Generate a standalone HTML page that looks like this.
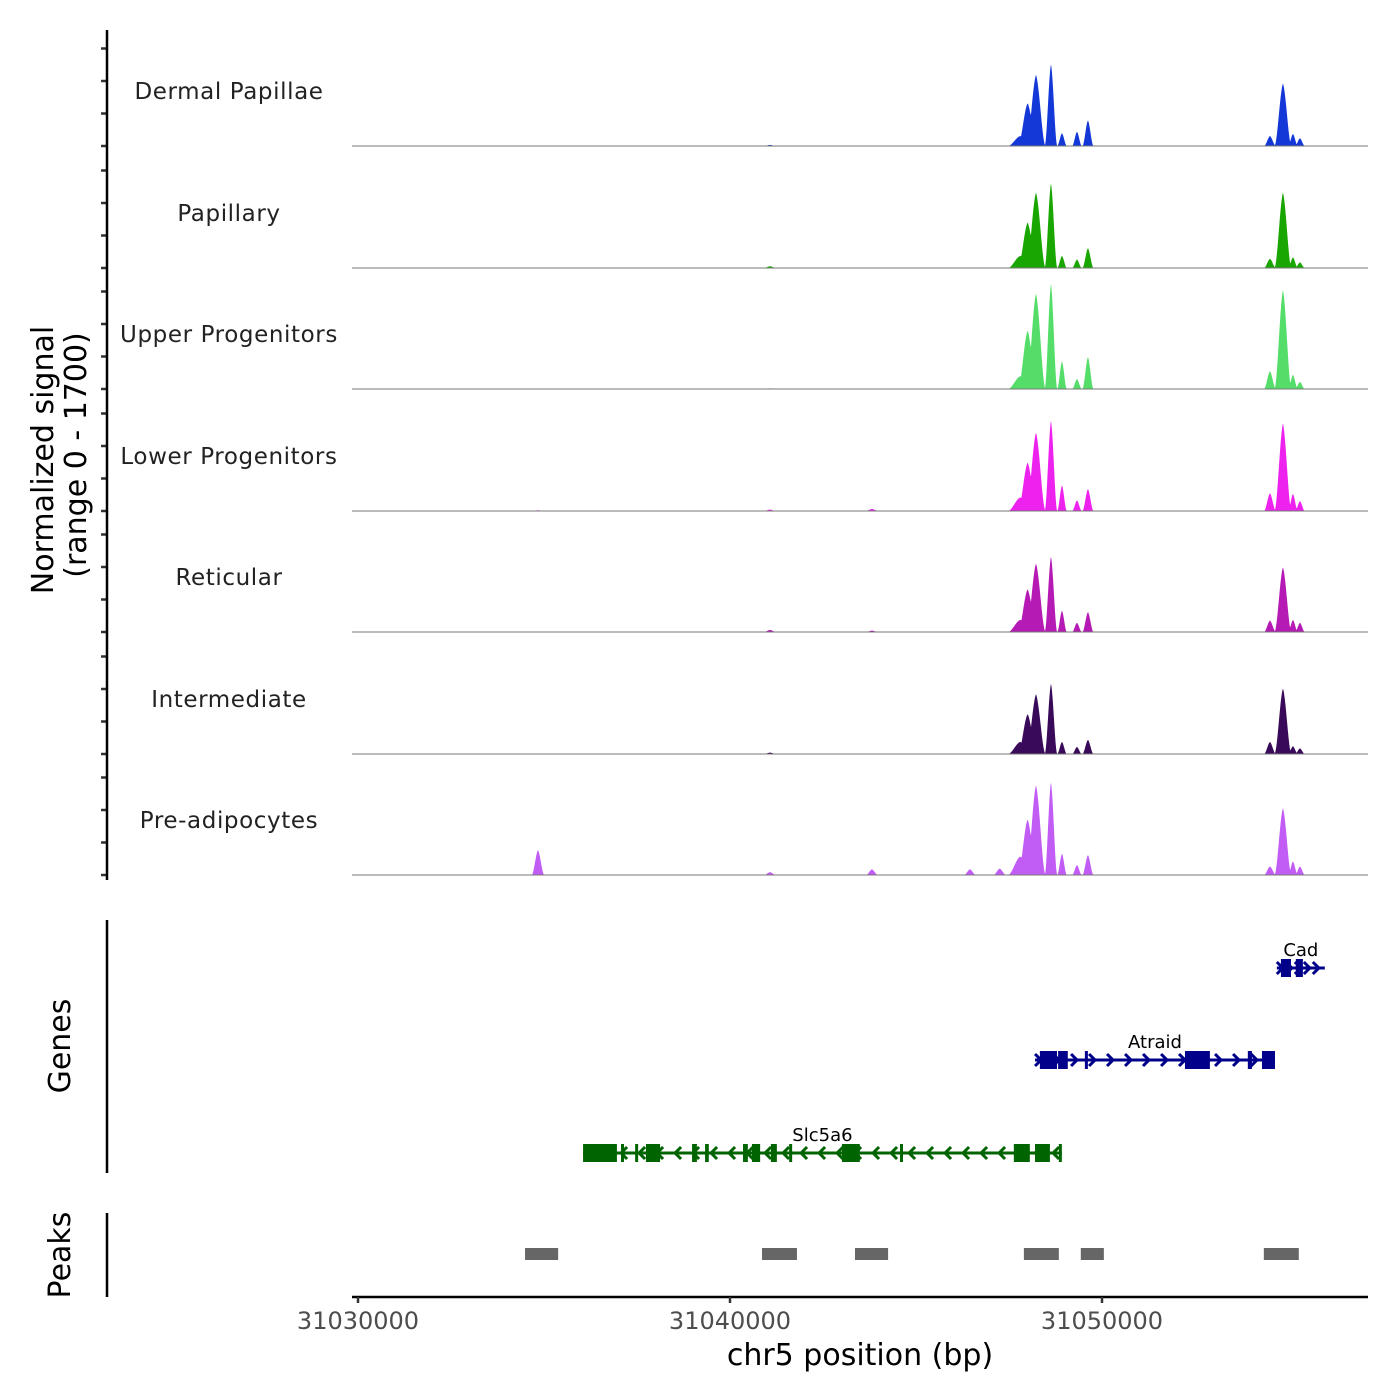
<!DOCTYPE html>
<html><head><meta charset="utf-8"><style>
html,body{margin:0;padding:0;background:#fff;}
svg{display:block;font-family:"DejaVu Sans","Liberation Sans",sans-serif;}
</style></head><body>
<svg id="chart" width="1400" height="1400" viewBox="0 0 1400 1400"></svg>
<script>
// ---- data ----
const trackNames = ["Dermal Papillae","Papillary","Upper Progenitors","Lower Progenitors","Reticular","Intermediate","Pre-adipocytes"];
const trackColors = ["#1438d8","#1aa600","#55dd6a","#ee22ee","#b51ab5","#3a0a5a","#c15cf5"];
// peak centers (bp offset from 31030000)
const peakCenters = [4838, 11075, 13816, 16451, 17250, 17800, 18000, 18225, 18628, 18924, 19327, 19622, 24515, 24864, 25133, 25321];
const peakWidths  = [170, 160, 160, 160, 170, 330, 260, 260, 170, 130, 130, 150, 160, 230, 130, 130];
// signal values (range 0-1700)
const sigDP   = [0, 15, 0, 0, 0, 140, 600, 1000, 1150, 180, 200, 360, 140, 880, 170, 110];
const sigPap  = [0, 25, 0, 0, 0, 170, 640, 1060, 1190, 170, 120, 280, 130, 1060, 150, 80];
const sigUp   = [0, 10, 0, 0, 0, 180, 820, 1340, 1480, 390, 140, 450, 250, 1390, 200, 100];
const sigLow  = [10, 20, 30, 0, 0, 190, 680, 1100, 1270, 360, 150, 310, 250, 1230, 240, 140];
const sigRet  = [0, 30, 20, 0, 0, 170, 600, 960, 1060, 300, 130, 280, 160, 910, 170, 130];
const sigInt  = [0, 20, 0, 0, 0, 170, 560, 840, 990, 170, 100, 200, 170, 920, 110, 80];
const sigPre  = [350, 40, 80, 80, 90, 260, 780, 1260, 1300, 300, 140, 280, 120, 940, 190, 120];
const trackSignals = [sigDP, sigPap, sigUp, sigLow, sigRet, sigInt, sigPre];
const xTicks = [31030000, 31040000, 31050000];
const geneNames = ["Slc5a6","Atraid","Cad"];
const geneStart = [6.05, 18.20, 24.70];
const geneEnd   = [18.92, 24.65, 25.99];
const geneStrand = [-1, 1, 1];
const geneColors = ["#006400","#00008b","#00008b"];
const geneExons = [
 [[6.05,6.96],[7.07,7.15],[7.45,7.53],[7.74,8.12],[8.98,9.11],[9.33,9.43],[10.35,10.48],[10.59,10.81],[11.10,11.26],[11.59,11.67],[13.01,13.49],[14.57,14.65],[17.63,18.06],[18.20,18.60],[18.84,18.92]],
 [[18.33,18.79],[18.82,19.08],[19.54,19.62],[22.23,22.90],[23.92,24.03],[24.30,24.65]],
 [[24.81,25.08],[25.21,25.40]]
];
const peakStart = [4.49, 10.86, 13.36, 17.90, 19.43, 24.35];
const peakEnd   = [5.38, 11.80, 14.25, 18.84, 20.05, 25.29];

// ---- scales ----
const svg = document.getElementById('chart');
const NS = 'http://www.w3.org/2000/svg';
const X0 = 352, X1 = 1368;
const bpToX = bp => 358 + (bp - 31030000) / 10000 * 372;
const kbX = kb => bpToX(31030000 + kb * 1000);
const baselines = [146, 268, 389, 511, 632, 754, 875];
const sigScale = 121 / 1700;
function el(tag, attrs, parent) {
  const e = document.createElementNS(NS, tag);
  for (const k in attrs) e.setAttribute(k, attrs[k]);
  (parent || svg).appendChild(e);
  return e;
}
function txt(s, attrs, name) {
  const t = el('text', attrs);
  t.textContent = s;
  
  
  return t;
}

// tracks
trackNames.forEach((nm, i) => {
  const g = el('g', {});
  
  
  const base = baselines[i];
  const sig = trackSignals[i];
  let d = 'M' + X0 + ',' + base;
  for (let px = X0; px <= X1; px += 0.5) {
    const bpOff = (px - 358) / 372 * 10000;
    let v = 0;
    for (let k = 0; k < peakCenters.length; k++) {
      const dd = Math.abs(bpOff - peakCenters[k]) / peakWidths[k];
      if (dd < 1) { const b = 1 - dd * dd; v = Math.max(v, sig[k] * b * b * (1 - 0.35 * dd)); }
    }
    d += ' L' + px + ',' + (base - v * sigScale).toFixed(2);
  }
  d += ' L' + X1 + ',' + base + ' Z';
  const p = el('path', { d: d, fill: trackColors[i] }, g);
  
  
  const bl = el('line', { x1: X0, x2: X1, y1: base, y2: base, stroke: '#777', 'stroke-width': 1 }, g);
  
  
  txt(nm, { x: 229, y: base - 47, 'font-size': 23, fill: '#222', 'text-anchor': 'middle', 'letter-spacing': '0.6' }, 'track-label');
  for (let k = 0; k < 4; k++) {
    const t = el('line', { x1: 101, x2: 107, y1: base - k * 32.5, y2: base - k * 32.5, stroke: '#333', 'stroke-width': 2.5 });
    
    
  }
});

// left axis lines
[[30, 880], [920, 1173], [1213, 1297]].forEach(([a, b]) => {
  const l = el('line', { x1: 107, x2: 107, y1: a, y2: b, stroke: '#000', 'stroke-width': 2.5 });
  
  
});
txt('Normalized signal', { x: 0, y: 0, transform: 'translate(53,460) rotate(-90)', 'font-size': 30, 'text-anchor': 'middle', fill: '#000' }, 'y-axis-title');
txt('(range 0 - 1700)', { x: 0, y: 0, transform: 'translate(86,455) rotate(-90)', 'font-size': 30, 'text-anchor': 'middle', fill: '#000' }, 'y-axis-subtitle');
txt('Genes', { x: 0, y: 0, transform: 'translate(70,1046) rotate(-90)', 'font-size': 30, 'text-anchor': 'middle', fill: '#000' }, 'genes-title');
txt('Peaks', { x: 0, y: 0, transform: 'translate(70,1255) rotate(-90)', 'font-size': 30, 'text-anchor': 'middle', fill: '#000' }, 'peaks-title');

// genes
const geneY = [1153, 1060, 968];
geneNames.forEach((gn, i) => {
  const g = el('g', {});
  
  
  const y = geneY[i], c = geneColors[i];
  const xa = kbX(geneStart[i]), xb = kbX(geneEnd[i]);
  const ln = el('line', { x1: xa, x2: xb, y1: y, y2: y, stroke: c, 'stroke-width': 3 }, g);
  
  
  const step = (xb - xa) < 80 ? 9 : 18;
  for (let x = xa + 4; x < xb - 2; x += step) {
    const s = geneStrand[i];
    const a = el('polyline', { points: (x - 4 * s) + ',' + (y - 6) + ' ' + (x + 2 * s) + ',' + y + ' ' + (x - 4 * s) + ',' + (y + 6), fill: 'none', stroke: c, 'stroke-width': 3 }, g);
    
    
  }
  geneExons[i].forEach(([s, e]) => {
    const r = el('rect', { x: kbX(s), y: y - 9, width: Math.max(3, kbX(e) - kbX(s)), height: 18, fill: c }, g);
    
    
  });
  txt(gn, { x: (xa + xb) / 2, y: y - 12, 'font-size': 18, 'text-anchor': 'middle', fill: '#000' }, 'gene-label');
});

// peaks
peakStart.forEach((s, i) => {
  const r = el('rect', { x: kbX(s), y: 1248, width: kbX(peakEnd[i]) - kbX(s), height: 12, fill: '#666' });
  
  
});

// x axis
const xl = el('line', { x1: X0, x2: X1, y1: 1297, y2: 1297, stroke: '#000', 'stroke-width': 2.5 });


xTicks.forEach(t => {
  const x = bpToX(t);
  const tk = el('line', { x1: x, x2: x, y1: 1297, y2: 1303, stroke: '#333', 'stroke-width': 2.5 });
  
  
  txt(String(t), { x: x, y: 1329, 'font-size': 24, 'text-anchor': 'middle', fill: '#4d4d4d' }, 'x-tick-label');
});
txt('chr5 position (bp)', { x: 860, y: 1365, 'font-size': 30, 'text-anchor': 'middle', fill: '#000' }, 'x-axis-title');
</script>
</body></html>
